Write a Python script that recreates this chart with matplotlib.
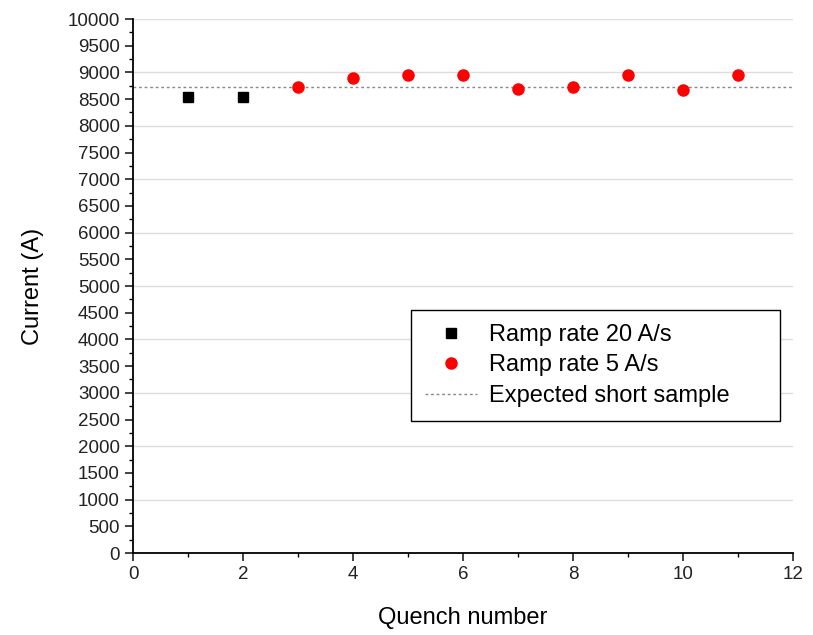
import matplotlib.pyplot as plt
from matplotlib.ticker import MultipleLocator

plt.rcParams['font.family'] = ['Liberation Sans', 'DejaVu Sans']

quench_fast = [1, 2]
current_fast = [8535, 8535]
quench_slow = [3, 4, 5, 6, 7, 8, 9, 10, 11]
current_slow = [8735, 8905, 8955, 8955, 8685, 8735, 8955, 8670, 8955]
expected = 8730

fig = plt.figure(figsize=(8.13, 6.35), dpi=100)
ax = fig.add_axes([0.1636, 0.1291, 0.8118, 0.8409])

for y in range(1000, 10001, 1000):
    ax.axhline(y, color='#dddddd', lw=1, zorder=0)

ax.plot(quench_fast, current_fast, 's', color='black', ms=7, ls='none', label='Ramp rate 20 A/s', zorder=3)
ax.plot(quench_slow, current_slow, 'o', color='red', ms=8, ls='none', label='Ramp rate 5 A/s', zorder=3)
ax.axhline(expected, color='#888888', lw=1, ls=(0, (2, 2)), label='Expected short sample', zorder=2)

ax.set_xlim(0, 12)
ax.set_ylim(0, 10000)
ax.xaxis.set_major_locator(MultipleLocator(2))
ax.xaxis.set_minor_locator(MultipleLocator(1))
ax.yaxis.set_major_locator(MultipleLocator(500))
ax.yaxis.set_minor_locator(MultipleLocator(250))
ax.tick_params(which='major', direction='out', length=6, width=1.2, labelsize=13.5, colors='#222222')
ax.tick_params(which='minor', direction='out', length=3, width=1)
ax.spines['top'].set_visible(False)
ax.spines['right'].set_visible(False)
ax.spines['left'].set_linewidth(1.3)
ax.spines['bottom'].set_linewidth(1.3)

ax.set_xlabel('Quench number', fontsize=17, labelpad=17)
ax.set_ylabel('Current (A)', fontsize=17, labelpad=17)

leg = ax.legend(loc='lower left', bbox_to_anchor=(0.421, 0.247, 0.559, 0.208), mode='expand',
                fontsize=17, frameon=True, fancybox=False, edgecolor='black', framealpha=1,
                handlelength=2.2, handletextpad=0.5, borderpad=0.6, labelspacing=0.36,
                borderaxespad=0)
leg.get_frame().set_linewidth(1)

plt.savefig('out.png', dpi=100)
